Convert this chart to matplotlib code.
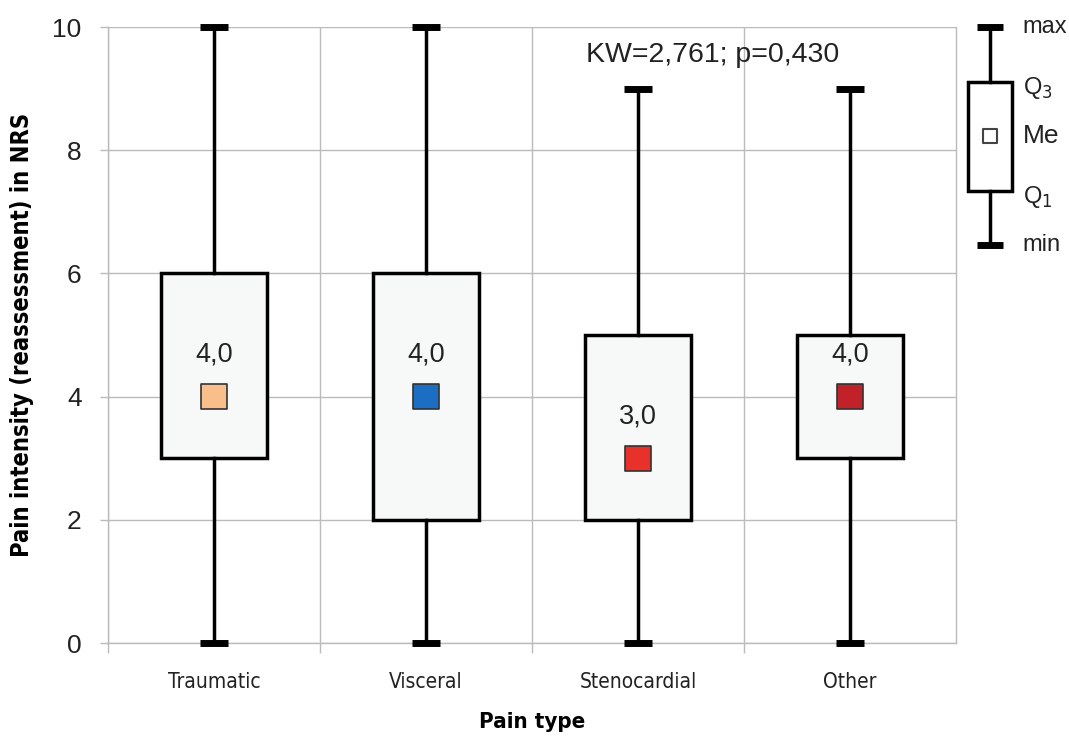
import matplotlib
matplotlib.use("Agg")
import matplotlib.pyplot as plt

categories = ["Traumatic", "Visceral", "Stenocardial", "Other"]
mins = [0, 0, 0, 0]
q1s = [3, 2, 2, 3]
medians = [4, 4, 3, 4]
q3s = [6, 6, 5, 5]
maxs = [10, 10, 9, 9]
median_labels = ["4,0", "4,0", "3,0", "4,0"]
marker_colors = ["#F9BF8B", "#1B6EC2", "#E8312A", "#C1222A"]
stat_text = "KW=2,761; p=0,430"

plt.rcParams["font.family"] = ["Liberation Sans", "DejaVu Sans"]
narrow = dict(family="DejaVu Sans", fontstretch="condensed")

fig = plt.figure(figsize=(10.69, 7.38), dpi=100)
ax = fig.add_axes([0.101, 0.1287, 0.7933, 0.8347])

stats = []
for c, lo, a, m, b, hi in zip(categories, mins, q1s, medians, q3s, maxs):
    stats.append(dict(label=c, whislo=lo, q1=a, med=m, q3=b, whishi=hi, fliers=[]))

positions = list(range(len(categories)))
parts = ax.bxp(stats, positions=positions, widths=0.5, capwidths=0.13,
               patch_artist=True, showfliers=False,
               boxprops=dict(facecolor="#F7F8F8", edgecolor="black", linewidth=2.5),
               whiskerprops=dict(color="black", linewidth=2.5),
               capprops=dict(color="black", linewidth=5),
               medianprops=dict(linewidth=0))
for cap in parts["caps"]:
    cap.set_clip_on(False)
    cap.set_solid_capstyle("butt")
    cap.set_zorder(4)
for w in parts["whiskers"]:
    w.set_clip_on(False)

ax.scatter(positions, medians, marker="s", s=330, c=marker_colors,
           edgecolors="#333333", linewidths=1.2, zorder=5)
for x, m, t in zip(positions, medians, median_labels):
    ax.text(x, m + 0.68, t, ha="center", va="center", fontsize=19.5, color="#222222")

ax.text(2.35, 9.55, stat_text, ha="center", va="center", fontsize=20.5, color="#222222")

ax.set_xlim(-0.5, 3.5)
ax.set_ylim(0, 10)
ax.set_yticks([0, 2, 4, 6, 8, 10])
ax.set_xticks(positions)
ax.set_xticklabels(categories, fontsize=15, color="#222222", **narrow)
ax.set_xticks([-0.5, 0.5, 1.5, 2.5], minor=True)
ax.tick_params(axis="x", which="major", length=0, pad=21)
ax.tick_params(axis="x", which="minor", length=7, color="#BBBBBB", width=1)
ax.tick_params(axis="y", length=6, color="#BBBBBB", width=1, labelsize=19,
               labelcolor="#222222", pad=13)
ax.grid(True, which="minor", axis="x", color="#BBBBBB", linewidth=1)
ax.grid(True, which="major", axis="y", color="#BBBBBB", linewidth=1)
ax.set_axisbelow(True)
for s in ax.spines.values():
    s.set_color("#BBBBBB")
    s.set_linewidth(1)
ax.spines["top"].set_visible(False)

ax.set_xlabel("Pain type", fontsize=16, fontweight="bold", labelpad=14, **narrow)
ax.set_ylabel("Pain intensity (reassessment) in NRS", fontsize=17,
              fontweight="bold", labelpad=13, **narrow)

# legend key drawn as a small box plot
lax = fig.add_axes([0.898, 0.668, 0.056, 0.2954])
lp = lax.bxp([dict(whislo=0, q1=0.25, med=0.5, q3=0.75, whishi=1, fliers=[])],
             positions=[0.5], widths=0.73, capwidths=0.43, patch_artist=True,
             showfliers=False,
             boxprops=dict(facecolor="white", edgecolor="black", linewidth=2.5),
             whiskerprops=dict(color="black", linewidth=2.5),
             capprops=dict(color="black", linewidth=5),
             medianprops=dict(linewidth=0))
for cap in lp["caps"]:
    cap.set_clip_on(False)
    cap.set_solid_capstyle("butt")
lax.scatter([0.5], [0.5], marker="s", s=110, facecolors="white",
            edgecolors="#444444", linewidths=1.5, zorder=5)
lax.set_xlim(0, 1)
lax.set_ylim(0, 1)
lax.axis("off")
key_labels = [(1.0, "max"), (0.75, "Q$_3$"), (0.5, "Me"), (0.25, "Q$_1$"), (0.0, "min")]
key_offsets = [0.0, -0.03, 0.0, -0.03, 0.0]
for (y, t), dy in zip(key_labels, key_offsets):
    lax.text(1.05, y + dy, t, ha="left", va="center", fontsize=19 if t == "Me" else 17,
             color="#222222", clip_on=False)

fig.savefig("out.png", dpi=100)
